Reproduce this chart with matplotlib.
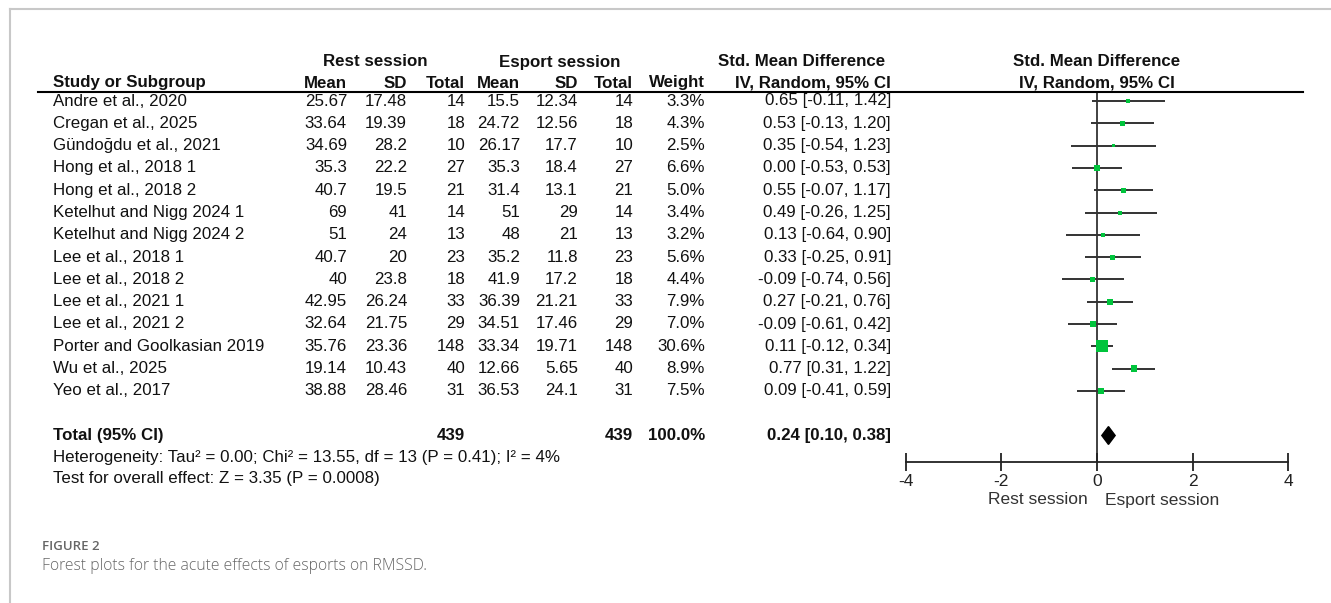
import numpy as np
import matplotlib
matplotlib.use("Agg")
from matplotlib import pyplot as plt
from matplotlib.lines import Line2D
from matplotlib.transforms import blended_transform_factory

# ===== data =====
studies = ["Andre et al., 2020", "Cregan et al., 2025", "Gündoğdu et al., 2021",
           "Hong et al., 2018 1", "Hong et al., 2018 2", "Ketelhut and Nigg 2024 1",
           "Ketelhut and Nigg 2024 2", "Lee et al., 2018 1", "Lee et al., 2018 2",
           "Lee et al., 2021 1", "Lee et al., 2021 2", "Porter and Goolkasian 2019",
           "Wu et al., 2025", "Yeo et al., 2017"]
rest_mean = [25.67, 33.64, 34.69, 35.3, 40.7, 69, 51, 40.7, 40, 42.95, 32.64, 35.76, 19.14, 38.88]
rest_sd = [17.48, 19.39, 28.2, 22.2, 19.5, 41, 24, 20, 23.8, 26.24, 21.75, 23.36, 10.43, 28.46]
rest_n = [14, 18, 10, 27, 21, 14, 13, 23, 18, 33, 29, 148, 40, 31]
esport_mean = [15.5, 24.72, 26.17, 35.3, 31.4, 51, 48, 35.2, 41.9, 36.39, 34.51, 33.34, 12.66, 36.53]
esport_sd = [12.34, 12.56, 17.7, 18.4, 13.1, 29, 21, 11.8, 17.2, 21.21, 17.46, 19.71, 5.65, 24.1]
esport_n = [14, 18, 10, 27, 21, 14, 13, 23, 18, 33, 29, 148, 40, 31]
weight = [3.3, 4.3, 2.5, 6.6, 5.0, 3.4, 3.2, 5.6, 4.4, 7.9, 7.0, 30.6, 8.9, 7.5]
smd = [0.65, 0.53, 0.35, 0.00, 0.55, 0.49, 0.13, 0.33, -0.09, 0.27, -0.09, 0.11, 0.77, 0.09]
ci_lo = [-0.11, -0.13, -0.54, -0.53, -0.07, -0.26, -0.64, -0.25, -0.74, -0.21, -0.61, -0.12, 0.31, -0.41]
ci_hi = [1.42, 1.20, 1.23, 0.53, 1.17, 1.25, 0.90, 0.91, 0.56, 0.76, 0.42, 0.34, 1.22, 0.59]

total_rest_n = 439
total_esport_n = 439
total_weight = 100.0
total_smd = 0.24
total_lo = 0.10
total_hi = 0.38

heterogeneity = "Heterogeneity: Tau² = 0.00; Chi² = 13.55, df = 13 (P = 0.41); I² = 4%"
overall = "Test for overall effect: Z = 3.35 (P = 0.0008)"
xticks = [-4, -2, 0, 2, 4]

W, H = 1331, 603
plt.rcParams['font.family'] = ['Liberation Sans', 'DejaVu Sans']
fig = plt.figure(figsize=(W / 100, H / 100), dpi=100)

def fx(px):
    return px / W

def fy(py):
    return 1 - py / H

# forest axes: rows in data units, pixel box
row0, row_step = 101, 22.3
ax_top, ax_bot = 92, 462
ax = fig.add_axes([fx(905.7), fy(ax_bot), fx(1288.3) - fx(905.7), (ax_bot - ax_top) / H])
ax.set_xlim(-4, 4)
ax.set_ylim((ax_bot - row0) / row_step, (ax_top - row0) / row_step)
ax.patch.set_visible(False)
for s in ["top", "left", "right"]:
    ax.spines[s].set_visible(False)
ax.spines["bottom"].set_linewidth(1.3)
ax.spines["bottom"].set_color("#222222")
ax.set_yticks([])
ax.set_xticks(xticks)
ax.set_xticklabels([str(t) for t in xticks])
ax.tick_params(axis="x", direction="inout", length=13, width=1.3, labelsize=12.5, pad=2.5,
               color="#222222", labelcolor="#222222")
ax.axvline(0, color="#333333", lw=1.3, zorder=1)

rows = np.arange(len(studies))
ax.hlines(rows, ci_lo, ci_hi, color="#333333", lw=1.4, zorder=2)
sizes = [(12 * 0.72 * np.sqrt(w / 30.6)) ** 2 for w in weight]
ax.scatter(smd, rows, s=sizes, marker="s", color="#00c43c", edgecolors="none", zorder=3)

total_row = 15.0
dh = 0.4
ax.fill([total_lo, total_smd, total_hi, total_smd],
        [total_row, total_row - dh, total_row, total_row + dh],
        color="black", zorder=3, clip_on=False)

tr = blended_transform_factory(fig.transFigure, ax.transData)
fs = 12.2

def put(px, row, txt, ha="right", bold=False, **kw):
    fig.text(fx(px), row, txt, transform=tr, ha=ha, va="center", fontsize=fs,
             fontweight="bold" if bold else "normal", color="#111111", **kw)

# headers
r_group = (62 - row0) / row_step
r_col = (83 - row0) / row_step
put(375, r_group, "Rest session", ha="center", bold=True)
put(560, r_group, "Esport session", ha="center", bold=True)
put(885, r_group, "Std. Mean Difference", bold=True)
put(1097, r_group, "Std. Mean Difference", ha="center", bold=True)
put(53, r_col, "Study or Subgroup", ha="left", bold=True)
cols = [347, 407, 465, 520, 578, 633, 705]
for px, lab in zip(cols, ["Mean", "SD", "Total", "Mean", "SD", "Total", "Weight"]):
    put(px, r_col, lab, bold=True)
put(891, r_col, "IV, Random, 95% CI", bold=True)
put(1097, r_col, "IV, Random, 95% CI", ha="center", bold=True)

fig.add_artist(Line2D([fx(38), fx(1303)], [fy(92), fy(92)], color="black", lw=1.5))

# study rows
for i in rows:
    put(53, i, studies[i], ha="left")
    put(cols[0], i, f"{rest_mean[i]:g}")
    put(cols[1], i, f"{rest_sd[i]:g}")
    put(cols[2], i, f"{rest_n[i]}")
    put(cols[3], i, f"{esport_mean[i]:g}")
    put(cols[4], i, f"{esport_sd[i]:g}")
    put(cols[5], i, f"{esport_n[i]}")
    put(cols[6], i, f"{weight[i]:.1f}%")
    put(891, i, f"{smd[i]:.2f} [{ci_lo[i]:.2f}, {ci_hi[i]:.2f}]")

# total rows
put(53, total_row, "Total (95% CI)", ha="left", bold=True)
put(cols[2], total_row, f"{total_rest_n}", bold=True)
put(cols[5], total_row, f"{total_esport_n}", bold=True)
put(cols[6], total_row, f"{total_weight:.1f}%", bold=True)
put(891, total_row, f"{total_smd:.2f} [{total_lo:.2f}, {total_hi:.2f}]", bold=True)
put(53, (458 - row0) / row_step, heterogeneity, ha="left")
put(53, (479 - row0) / row_step, overall, ha="left")

# favours labels
fig.text(fx(1088), fy(500), "Rest session", ha="right", va="center", fontsize=12.5, color="#333333")
fig.text(fx(1105), fy(500), "Esport session", ha="left", va="center", fontsize=12.5, color="#333333")

# frame and caption
fig.add_artist(Line2D([fx(10), 1], [fy(9), fy(9)], color="#c8c8c8", lw=1.5))
fig.add_artist(Line2D([fx(10), fx(10)], [0, fy(9)], color="#c8c8c8", lw=1.5))
fig.text(fx(42), fy(547), "FIGURE 2", ha="left", va="center", fontsize=9.5,
         family=["Open Sans", "DejaVu Sans"], fontweight="semibold", color="#666666")
fig.text(fx(42), fy(566), "Forest plots for the acute effects of esports on RMSSD.", ha="left",
         va="center", fontsize=11.3, family=["Open Sans", "DejaVu Sans"], fontweight="light",
         color="#666666")

fig.savefig("out.png", dpi=100)
